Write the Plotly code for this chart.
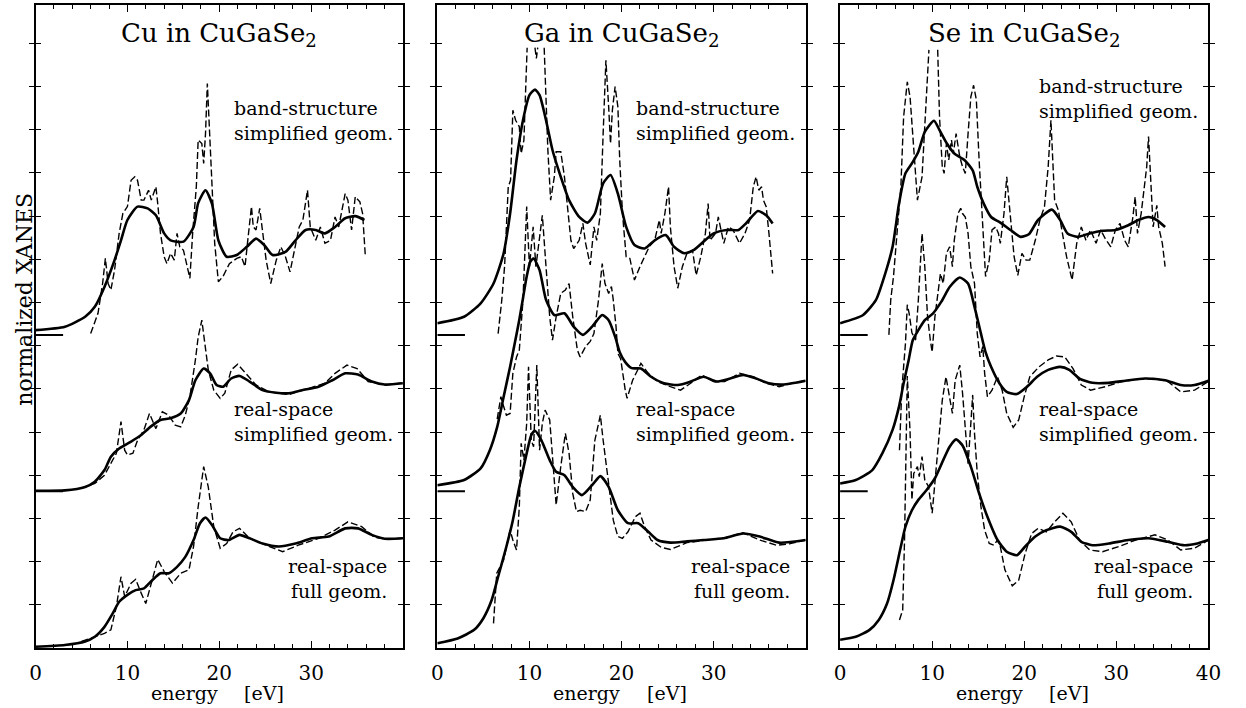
import plotly.graph_objects as go

# ---------------- data (energy [eV], normalized XANES, curves offset vertically) -------------
TITLES = ["Cu in CuGaSe<sub>2</sub>", "Ga in CuGaSe<sub>2</sub>", "Se in CuGaSe<sub>2</sub>"]
OFFSETS = [3.63, 7.25]          # baselines of the shifted curves
X_RANGES = [[0, 39.98], [0, 39.98], [0, 40]]

CU_BS_SOLID = [(0, 7.36), (3.2, 7.44), (5.4, 7.67), (6.45, 7.9), (7.5, 8.36), (8.6, 8.98), (9.3, 9.44),
               (10.0, 9.91), (11.1, 10.22), (12.2, 10.18), (13.1, 10.02), (14.0, 9.6), (14.7, 9.44),
               (16.1, 9.41), (17.2, 9.75), (17.7, 10.3), (18.5, 10.6), (19.2, 10.29), (19.9, 9.44),
               (20.8, 9.06), (21.9, 9.1), (23.0, 9.29), (24.0, 9.48), (24.9, 9.33), (25.8, 9.1),
               (27.2, 9.17), (28.3, 9.44), (29.4, 9.68), (30.5, 9.68), (31.5, 9.6), (32.6, 9.75),
               (33.7, 9.95), (34.8, 10.0), (35.8, 9.91)]
CU_BS_DASH = [(6.0, 7.28), (6.3, 7.44), (6.8, 7.75), (7.3, 8.44), (7.6, 9.02), (7.9, 8.44), (8.2, 8.29),
              (8.6, 8.75), (9.1, 9.6), (9.5, 10.06), (10.0, 10.22), (10.4, 10.83), (10.8, 10.91),
              (11.1, 10.83), (11.5, 10.37), (11.8, 10.37), (12.3, 10.6), (12.6, 10.37), (13.1, 10.68),
              (13.3, 10.29), (13.6, 9.6), (14.0, 9.06), (14.3, 8.9), (14.7, 9.14), (15.1, 8.98),
              (15.4, 9.6), (15.7, 9.29), (16.1, 9.21), (16.4, 8.9), (16.8, 8.56), (17.1, 9.6),
              (17.5, 10.68), (17.7, 11.76), (18.1, 11.68), (18.3, 11.22), (18.5, 11.91), (18.7, 13.07),
              (19.0, 11.76), (19.3, 10.37), (19.5, 9.37), (19.9, 8.48), (20.4, 8.6), (21.1, 8.9),
              (21.9, 9.02), (22.4, 9.06), (22.8, 8.83), (23.1, 9.44), (23.5, 10.22), (23.7, 9.75),
              (24.0, 9.68), (24.4, 10.18), (24.7, 9.6), (25.1, 8.98), (25.6, 8.44), (26.2, 8.98),
              (26.7, 9.29), (27.2, 9.06), (27.7, 8.71), (28.1, 9.14), (28.7, 9.75), (29.1, 9.91),
              (29.6, 10.6), (29.9, 9.75), (30.5, 9.44), (31.0, 9.75), (31.5, 9.37), (32.1, 9.44),
              (32.6, 9.98), (33.0, 9.75), (33.7, 10.52), (34.0, 10.37), (34.4, 9.68), (34.8, 10.45),
              (35.3, 10.33), (35.6, 10.06), (35.9, 9.06)]
CU_RS_SIMP_SOLID = [(0, 3.64), (3.2, 3.65), (5.4, 3.73), (6.45, 3.85), (7.5, 4.12), (8.2, 4.43), (9.1, 4.62),
                    (10.4, 4.78), (11.5, 4.93), (12.5, 5.12), (13.6, 5.28), (14.7, 5.32), (15.8, 5.43),
                    (16.7, 5.74), (17.4, 6.2), (18.3, 6.47), (19.0, 6.36), (19.7, 6.09), (20.4, 6.05),
                    (21.3, 6.24), (22.2, 6.3), (23.3, 6.17), (24.7, 5.97), (26.2, 5.91), (27.6, 5.9),
                    (29.0, 5.97), (30.8, 6.05), (32.3, 6.2), (33.7, 6.36), (35.1, 6.33), (36.6, 6.17),
                    (38.0, 6.1), (40.0, 6.13)]
CU_RS_SIMP_DASH = [(5.0, 3.7), (6.45, 3.81), (7.5, 4.0), (8.2, 4.27), (8.8, 4.51), (9.3, 5.24), (9.7, 4.58),
                   (10.0, 4.47), (10.6, 4.51), (11.1, 4.81), (11.8, 5.05), (12.4, 5.43), (13.1, 5.08),
                   (13.8, 5.47), (14.5, 5.39), (15.2, 5.16), (15.8, 5.12), (16.3, 5.39), (16.8, 5.82),
                   (17.4, 6.67), (17.7, 7.2), (18.1, 7.59), (18.5, 6.9), (18.8, 6.44), (19.4, 5.97),
                   (20.1, 5.78), (20.6, 5.9), (21.3, 6.44), (22.0, 6.57), (22.9, 6.36), (24.0, 6.09),
                   (25.4, 5.93), (27.6, 5.87), (29.7, 6.01), (31.5, 6.13), (32.6, 6.36), (33.9, 6.55),
                   (35.0, 6.47), (36.2, 6.17), (38.0, 6.09), (40.0, 6.14)]
CU_RS_FULL_SOLID = [(0, 0.03), (3.2, 0.07), (5.4, 0.15), (6.45, 0.26), (7.5, 0.49), (8.4, 0.8), (9.1, 1.07),
                    (10.0, 1.23), (10.9, 1.34), (11.8, 1.38), (12.7, 1.57), (13.6, 1.73), (14.5, 1.73),
                    (15.4, 1.88), (16.3, 2.11), (17.2, 2.5), (17.9, 2.89), (18.5, 3.02), (19.2, 2.85),
                    (20.1, 2.54), (21.0, 2.5), (22.2, 2.62), (23.3, 2.54), (24.7, 2.42), (26.5, 2.35),
                    (28.3, 2.42), (30.1, 2.54), (31.9, 2.58), (33.7, 2.77), (35.1, 2.77), (36.6, 2.62),
                    (38.0, 2.53), (40.0, 2.54)]
CU_RS_FULL_DASH = [(5.0, 0.15), (7.5, 0.34), (8.2, 0.42), (8.8, 0.96), (9.3, 1.65), (9.7, 1.19), (10.4, 1.5),
                   (10.9, 1.59), (11.5, 1.27), (12.0, 1.03), (12.5, 1.42), (13.3, 2.05), (14.0, 1.77),
                   (14.9, 1.5), (15.8, 1.73), (16.7, 1.81), (17.2, 2.35), (17.7, 3.27), (18.3, 4.2),
                   (18.8, 3.73), (19.4, 2.81), (20.1, 2.31), (20.8, 2.42), (21.5, 2.69), (22.2, 2.77),
                   (23.3, 2.54), (25.1, 2.38), (26.9, 2.23), (28.6, 2.38), (30.8, 2.54), (32.6, 2.73),
                   (34.0, 2.92), (35.5, 2.81), (36.9, 2.56), (38.4, 2.52), (40.0, 2.54)]

GA_BS_SOLID = [(0, 7.52), (2.9, 7.67), (4.7, 7.98), (6.1, 8.44), (7.2, 9.14), (7.9, 10.06), (8.6, 11.3),
               (9.3, 12.22), (10.0, 12.8), (10.6, 12.93), (11.1, 12.8), (11.8, 12.22), (12.5, 11.53),
               (13.4, 10.91), (14.3, 10.37), (15.4, 9.98), (16.3, 9.85), (17.1, 10.06), (18.0, 10.76),
               (18.8, 10.95), (19.6, 10.52), (20.5, 9.75), (21.4, 9.33), (22.5, 9.25), (23.6, 9.44),
               (24.8, 9.56), (25.7, 9.29), (26.8, 9.14), (27.8, 9.21), (28.9, 9.41), (30.0, 9.6),
               (31.4, 9.68), (32.7, 9.68), (33.5, 9.83), (34.8, 10.12), (35.7, 10.02), (36.4, 9.83)]
GA_BS_DASH = [(6.6, 7.28), (7.0, 8.06), (7.3, 8.83), (7.7, 10.68), (7.95, 10.83), (8.2, 12.45), (8.5, 12.22),
              (8.9, 12.07), (9.1, 11.45), (9.4, 11.76), (9.6, 13.0), (9.75, 13.9), (9.75, None),
              (10.6, 13.9), (10.75, 13.65), (10.9, 13.9), (10.9, None), (11.6, 13.9), (12.0, 11.53),
              (12.3, 10.37), (12.7, 10.91), (12.9, 11.49), (13.4, 11.49), (13.8, 10.91), (14.1, 10.22),
              (14.5, 9.44), (14.8, 9.25), (15.4, 9.44), (15.8, 9.83), (16.1, 9.37), (16.6, 8.87),
              (17.0, 9.75), (17.3, 9.44), (17.7, 10.06), (18.0, 11.91), (18.3, 13.61), (18.6, 12.53),
              (18.8, 11.68), (19.0, 12.45), (19.3, 13.0), (19.6, 12.53), (19.8, 11.3), (20.1, 10.06),
              (20.5, 9.06), (20.9, 9.02), (21.4, 8.52), (22.0, 8.83), (22.5, 9.06), (23.0, 9.29),
              (23.6, 9.44), (24.1, 9.91), (24.3, 9.6), (24.7, 10.06), (25.1, 10.68), (25.3, 9.75),
              (25.7, 8.83), (26.1, 8.33), (26.6, 8.83), (27.1, 9.14), (27.7, 9.21), (28.1, 8.63),
              (28.6, 9.06), (29.1, 9.6), (29.4, 10.29), (29.6, 9.44), (30.2, 9.6), (30.5, 9.98),
              (31.1, 9.37), (31.6, 9.75), (32.1, 9.68), (32.8, 9.37), (33.4, 9.6), (33.9, 9.91),
              (34.3, 10.68), (34.6, 10.91), (34.9, 10.6), (35.2, 10.68), (35.4, 10.37), (35.7, 10.22),
              (36.0, 9.6), (36.4, 8.67)]
GA_RS_SIMP_SOLID = [(0, 3.77), (2.9, 3.89), (4.7, 4.16), (5.7, 4.58), (6.5, 5.12), (7.2, 5.82), (7.9, 6.51),
                    (8.4, 7.05), (8.9, 7.6), (9.3, 8.1), (9.7, 8.6), (10.1, 8.95), (10.45, 9.02),
                    (11.1, 8.75), (11.8, 8.06), (12.7, 7.71), (13.8, 7.75), (14.8, 7.44), (15.8, 7.25),
                    (16.8, 7.44), (17.9, 7.71), (18.6, 7.59), (19.3, 7.21), (19.8, 6.85), (20.4, 6.62),
                    (21.1, 6.48), (22.1, 6.47), (23.2, 6.28), (24.6, 6.13), (26.1, 6.09), (27.5, 6.17),
                    (28.9, 6.28), (30.3, 6.17), (31.8, 6.24), (33.2, 6.32), (34.6, 6.24), (36.0, 6.13),
                    (37.5, 6.1), (40.0, 6.19)]
GA_RS_SIMP_DASH = [(6.5, 5.3), (6.9, 5.82), (7.2, 5.59), (7.5, 5.39), (7.9, 5.43), (8.2, 6.36), (8.6, 6.74),
                   (8.9, 6.9), (9.3, 8.06), (9.7, 10.22), (10.0, 8.83), (10.4, 9.75), (10.7, 8.83),
                   (11.1, 9.44), (11.4, 10.02), (11.8, 8.83), (12.2, 7.67), (12.5, 7.13), (12.9, 7.67),
                   (13.4, 8.21), (13.9, 8.29), (14.3, 8.44), (14.7, 7.67), (15.2, 6.9), (15.5, 6.74),
                   (16.1, 6.98), (16.6, 7.1), (17.0, 7.28), (17.5, 8.06), (17.9, 8.9), (18.2, 8.44),
                   (18.6, 8.21), (18.9, 8.37), (19.1, 8.06), (19.4, 7.44), (19.6, 6.82), (19.9, 6.7),
                   (20.4, 5.97), (20.6, 5.78), (21.2, 6.2), (22.1, 6.59), (22.9, 6.36), (23.9, 6.17),
                   (25.3, 6.05), (26.4, 5.97), (27.5, 6.13), (28.7, 6.32), (30.0, 6.17), (31.2, 6.17),
                   (32.8, 6.36), (34.3, 6.28), (35.7, 6.13), (37.1, 6.05), (38.5, 6.13), (40.0, 6.19)]
GA_RS_FULL_SOLID = [(0, 0.11), (2.2, 0.22), (4.0, 0.42), (5.0, 0.69), (5.9, 1.11), (6.6, 1.65), (7.5, 2.35),
                    (8.2, 2.96), (8.9, 3.73), (9.7, 4.51), (10.2, 4.93), (10.6, 5.03), (11.3, 4.81),
                    (12.2, 4.35), (12.9, 4.08), (13.8, 4.0), (14.7, 3.73), (15.7, 3.54), (16.8, 3.77),
                    (17.7, 3.98), (18.6, 3.73), (19.6, 3.19), (20.7, 2.89), (21.8, 2.89), (22.9, 2.69),
                    (23.9, 2.5), (25.3, 2.44), (27.1, 2.47), (28.9, 2.5), (31.1, 2.54), (33.2, 2.65),
                    (35.0, 2.58), (37.1, 2.44), (40.0, 2.5)]
GA_RS_FULL_DASH = [(6.1, 0.57), (6.3, 1.42), (6.45, 1.73), (6.8, 1.88), (7.2, 2.04), (7.9, 2.73), (8.2, 2.5),
                   (8.6, 2.27), (8.9, 3.27), (9.1, 4.74), (9.4, 4.35), (9.7, 5.2), (9.9, 6.51), (10.2, 4.81),
                   (10.45, 4.66), (10.8, 6.55), (11.1, 4.58), (11.4, 5.2), (11.7, 5.51), (12.2, 5.28),
                   (12.5, 4.35), (12.9, 3.31), (13.4, 4.2), (13.9, 4.97), (14.3, 4.51), (14.7, 3.58),
                   (15.1, 3.16), (15.5, 3.19), (16.1, 3.16), (16.6, 3.43), (17.1, 4.81), (17.7, 5.39),
                   (18.0, 4.81), (18.6, 3.73), (19.1, 2.96), (19.6, 2.58), (20.1, 2.54), (20.7, 2.69),
                   (21.5, 3.04), (22.0, 3.12), (22.5, 2.81), (23.2, 2.5), (24.3, 2.33), (25.3, 2.28),
                   (27.1, 2.44), (29.3, 2.5), (31.4, 2.56), (33.2, 2.67), (35.0, 2.5), (36.8, 2.38),
                   (38.2, 2.41), (40.0, 2.5)]

SE_BS_SOLID = [(0, 7.52), (2.5, 7.71), (3.9, 8.06), (4.8, 8.6), (5.7, 9.29), (6.4, 10.29), (7.1, 10.99),
               (7.8, 11.22), (8.5, 11.49), (9.2, 11.95), (10.2, 12.21), (10.8, 11.99), (11.6, 11.68),
               (12.4, 11.45), (13.5, 11.3), (14.4, 11.06), (14.9, 10.68), (15.6, 10.29), (16.4, 9.98),
               (17.4, 9.85), (18.5, 9.68), (19.6, 9.52), (20.5, 9.58), (21.5, 9.91), (23.0, 10.15),
               (23.9, 9.91), (24.7, 9.6), (25.8, 9.52), (27.1, 9.6), (28.5, 9.66), (29.9, 9.68),
               (31.3, 9.79), (32.4, 9.91), (33.5, 9.98), (34.4, 9.91), (35.3, 9.75)]
SE_BS_DASH = [(5.3, 7.25), (5.5, 8.06), (5.8, 8.6), (6.2, 9.6), (6.6, 10.68), (6.9, 12.3), (7.3, 13.11),
              (7.6, 12.76), (8.0, 11.6), (8.4, 10.37), (8.9, 10.91), (9.2, 12.07), (9.4, 12.84),
              (9.65, 13.85), (9.65, None), (10.6, 13.85), (10.8, 12.3), (11.1, 11.14), (11.3, 10.99),
              (11.55, 11.68), (11.8, 11.3), (12.1, 11.76), (12.3, 11.45), (12.6, 11.91), (13.0, 11.37),
              (13.3, 11.14), (13.6, 10.99), (13.9, 11.91), (14.2, 12.76), (14.5, 13.03), (14.8, 12.69),
              (15.1, 11.3), (15.5, 9.75), (15.8, 8.6), (16.2, 8.98), (16.5, 9.68), (16.9, 9.75),
              (17.2, 9.6), (17.4, 9.37), (17.8, 10.06), (18.1, 10.91), (18.5, 10.06), (18.9, 9.06),
              (19.3, 8.63), (19.75, 9.14), (20.2, 8.98), (20.6, 8.98), (21.2, 9.44), (21.7, 9.91),
              (22.2, 10.22), (22.6, 11.14), (22.9, 12.22), (23.0, 11.76), (23.3, 10.37), (23.7, 10.14),
              (24.1, 9.68), (24.6, 9.06), (25.2, 8.52), (25.7, 9.37), (26.2, 9.75), (26.7, 9.44),
              (27.2, 9.68), (27.8, 9.37), (28.3, 9.68), (28.8, 9.48), (29.4, 9.29), (29.9, 9.68),
              (30.4, 9.83), (30.9, 9.44), (31.3, 9.29), (31.8, 9.98), (32.05, 10.45), (32.3, 9.6),
              (32.7, 10.06), (33.0, 10.68), (33.3, 11.14), (33.5, 11.84), (33.8, 10.76), (34.0, 9.75),
              (34.4, 10.25), (34.6, 9.75), (35.0, 9.37), (35.3, 8.83)]
SE_RS_SIMP_SOLID = [(0, 3.81), (1.7, 3.89), (3.5, 4.12), (4.6, 4.51), (5.7, 5.05), (6.4, 5.59), (6.9, 6.13),
                    (7.45, 6.67), (7.9, 7.13), (8.5, 7.36), (9.2, 7.59), (10.1, 7.75), (11.0, 8.02),
                    (11.9, 8.36), (13.0, 8.58), (13.9, 8.44), (14.6, 7.9), (15.3, 7.28), (15.8, 6.85),
                    (16.4, 6.51), (17.3, 6.13), (18.1, 5.93), (19.2, 5.88), (20.3, 6.05), (21.4, 6.28),
                    (22.6, 6.44), (23.9, 6.51), (24.9, 6.44), (26.0, 6.24), (27.4, 6.14), (29.2, 6.14),
                    (31.0, 6.19), (33.1, 6.24), (35.3, 6.2), (37.0, 6.09), (38.5, 6.09), (40.0, 6.19)]
SE_RS_SIMP_DASH = [(6.45, 4.58), (6.7, 5.97), (6.9, 6.51), (7.1, 7.05), (7.3, 7.95), (7.5, 7.75), (7.8, 7.3),
                   (8.2, 7.13), (8.5, 8.06), (8.9, 9.6), (9.2, 8.83), (9.5, 7.67), (9.8, 7.13), (10.0, 6.85),
                   (10.3, 7.67), (10.7, 8.36), (10.9, 8.67), (11.2, 8.44), (11.55, 9.14), (11.9, 9.29),
                   (12.2, 8.83), (12.4, 9.44), (12.8, 10.06), (13.1, 10.18), (13.3, 10.06), (13.6, 9.98),
                   (13.9, 9.6), (14.2, 8.83), (14.6, 8.44), (14.9, 7.28), (15.2, 6.74), (15.5, 6.98),
                   (15.7, 6.36), (16.0, 5.82), (16.5, 5.97), (17.1, 6.28), (17.6, 5.97), (18.1, 5.43),
                   (18.8, 5.11), (19.4, 5.28), (20.0, 5.82), (20.6, 6.28), (21.6, 6.51), (22.6, 6.67),
                   (23.5, 6.76), (24.4, 6.74), (25.3, 6.47), (26.2, 6.09), (27.2, 5.97), (28.8, 6.05),
                   (30.6, 6.17), (32.4, 6.22), (34.2, 6.24), (35.6, 6.17), (37.0, 5.93), (38.5, 5.97),
                   (40.0, 6.17)]
SE_RS_FULL_SOLID = [(0, 0.19), (1.7, 0.26), (3.2, 0.42), (4.2, 0.65), (5.1, 1.03), (5.8, 1.57), (6.6, 2.35),
                    (7.1, 2.81), (7.8, 3.19), (8.5, 3.43), (9.4, 3.66), (10.3, 3.93), (11.2, 4.35),
                    (11.9, 4.66), (12.6, 4.83), (13.3, 4.69), (14.2, 4.2), (15.1, 3.58), (16.0, 3.04),
                    (17.1, 2.5), (18.1, 2.23), (19.2, 2.15), (20.1, 2.35), (21.2, 2.58), (22.4, 2.73),
                    (23.9, 2.81), (25.1, 2.69), (26.2, 2.46), (27.4, 2.38), (29.2, 2.42), (31.3, 2.5),
                    (33.5, 2.54), (35.6, 2.46), (37.4, 2.38), (38.8, 2.42), (40.0, 2.5)]
SE_RS_FULL_DASH = [(6.45, 0.65), (6.8, 0.88), (7.0, 2.5), (7.3, 6.3), (7.6, 5.0), (7.8, 3.43), (8.0, 4.04),
                   (8.4, 4.2), (8.6, 3.97), (8.9, 4.43), (9.2, 3.89), (9.6, 3.74), (10.0, 3.12), (10.3, 3.89),
                   (10.6, 4.58), (11.1, 5.74), (11.5, 6.28), (11.9, 5.74), (12.2, 5.43), (12.5, 6.2),
                   (13.0, 6.55), (13.3, 5.9), (13.7, 4.81), (13.9, 4.27), (14.2, 5.2), (14.4, 5.86),
                   (14.6, 4.97), (14.9, 4.04), (15.3, 3.27), (15.7, 2.73), (16.2, 2.42), (16.7, 2.38),
                   (17.1, 2.5), (17.4, 2.35), (17.9, 1.81), (18.7, 1.44), (19.4, 1.57), (20.1, 2.19),
                   (20.8, 2.65), (21.5, 2.77), (22.4, 2.69), (23.3, 2.92), (24.2, 3.12), (25.1, 2.92),
                   (26.0, 2.5), (27.1, 2.27), (28.5, 2.23), (30.3, 2.35), (32.1, 2.5), (34.2, 2.62),
                   (35.6, 2.5), (37.0, 2.27), (38.5, 2.31), (40.0, 2.5)]

LABEL_BS = "band-structure<br>simplified geom."
LABEL_RS_SIMP = "real-space<br>simplified geom."
LABEL_RS_FULL = "real-space<br>full geom."

PANELS = [
    dict(title=TITLES[0],
         curves=[(CU_BS_SOLID, CU_BS_DASH), (CU_RS_SIMP_SOLID, CU_RS_SIMP_DASH), (CU_RS_FULL_SOLID, CU_RS_FULL_DASH)],
         bs_label_y=12.22),
    dict(title=TITLES[1],
         curves=[(GA_BS_SOLID, GA_BS_DASH), (GA_RS_SIMP_SOLID, GA_RS_SIMP_DASH), (GA_RS_FULL_SOLID, GA_RS_FULL_DASH)],
         bs_label_y=12.22),
    dict(title=TITLES[2],
         curves=[(SE_BS_SOLID, SE_BS_DASH), (SE_RS_SIMP_SOLID, SE_RS_SIMP_DASH), (SE_RS_FULL_SOLID, SE_RS_FULL_DASH)],
         bs_label_y=12.72),
]

# ---------------- figure ----------------
W, H = 1246, 708
X_DOMAINS_PX = [(30, 403), (438, 812), (847, 1221)]
Y_DOMAIN_PX = (4.5, 648)   # top, bottom in pixels
FONT = "DejaVu Serif"

fig = go.Figure()


def unzip(pairs):
    return [p[0] for p in pairs], [p[1] for p in pairs]


for i, panel in enumerate(PANELS):
    xa = "x" if i == 0 else f"x{i + 1}"
    ya = "y" if i == 0 else f"y{i + 1}"
    xm = f"x{i + 4}"          # overlay axis carrying the minor (2 eV) ticks
    for solid, dash in panel["curves"]:
        dx, dy = unzip(dash)
        fig.add_trace(go.Scatter(x=dx, y=dy, mode="lines", xaxis=xa, yaxis=ya, showlegend=False,
                                 connectgaps=False, hoverinfo="skip",
                                 line=dict(color="black", width=1.4, dash="7px,3px")))
        sx, sy = unzip(solid)
        fig.add_trace(go.Scatter(x=sx, y=sy, mode="lines", xaxis=xa, yaxis=ya, showlegend=False,
                                 hoverinfo="skip",
                                 line=dict(color="black", width=2.6, shape="spline", smoothing=0.6)))
    for off in OFFSETS:
        fig.add_trace(go.Scatter(x=[0, 3.0], y=[off, off], mode="lines", xaxis=xa, yaxis=ya,
                                 showlegend=False, hoverinfo="skip",
                                 line=dict(color="black", width=2)))
    # empty trace so the minor-tick overlay axis is rendered
    fig.add_trace(go.Scatter(x=[], y=[], mode="lines", xaxis=xm, yaxis=ya, showlegend=False,
                             hoverinfo="skip"))

    x0, x1 = X_DOMAINS_PX[i]
    xkey = "xaxis" if i == 0 else f"xaxis{i + 1}"
    ykey = "yaxis" if i == 0 else f"yaxis{i + 1}"
    xmkey = f"xaxis{i + 4}"
    fig.update_layout({
        xkey: dict(domain=[x0 / W, x1 / W], range=X_RANGES[i], anchor=ya,
                   tickmode="linear", tick0=0, dtick=10,
                   ticks="inside", ticklen=7, tickwidth=1.3, tickcolor="black",
                   showline=True, linecolor="black", linewidth=2, mirror="allticks",
                   showgrid=False, zeroline=False, ticklabelstandoff=6,
                   tickfont=dict(family=FONT, size=20, color="black")),
        xmkey: dict(overlaying=xa, range=X_RANGES[i], anchor=ya, side="bottom",
                    tickmode="linear", tick0=0, dtick=2,
                    ticks="inside", ticklen=4, tickwidth=1.2, tickcolor="black",
                    showticklabels=False, showline=False, mirror="allticks",
                    showgrid=False, zeroline=False),
        ykey: dict(domain=[(H - Y_DOMAIN_PX[1]) / H, (H - Y_DOMAIN_PX[0]) / H], range=[0, 14.9],
                   anchor=xa, tickmode="linear", tick0=0, dtick=1,
                   ticks="inside", ticklen=5, tickwidth=1.3, tickcolor="black",
                   showticklabels=False, showline=True, linecolor="black", linewidth=2,
                   mirror="allticks", showgrid=False, zeroline=False),
    })

    ann_font = dict(family=FONT, size=19, color="black")
    fig.add_annotation(x=20, y=14.2, xref=xa, yref=ya, text=panel["title"], showarrow=False,
                       font=dict(family=FONT, size=26, color="black"), xanchor="center", yanchor="middle")
    fig.add_annotation(x=21.4, y=panel["bs_label_y"], xref=xa, yref=ya, text=LABEL_BS, showarrow=False,
                       font=ann_font, xanchor="left", yanchor="middle", align="left")
    fig.add_annotation(x=21.4, y=5.25, xref=xa, yref=ya, text=LABEL_RS_SIMP, showarrow=False,
                       font=ann_font, xanchor="left", yanchor="middle", align="left")
    fig.add_annotation(x=38.5, y=1.62, xref=xa, yref=ya, text=LABEL_RS_FULL, showarrow=False,
                       font=ann_font, xanchor="right", yanchor="middle", align="right")
    fig.add_annotation(x=16.2, y=(H - 693) / H, xref=xa, yref="paper", text="energy", showarrow=False,
                       font=ann_font, xanchor="center", yanchor="middle")
    fig.add_annotation(x=24.9, y=(H - 693) / H, xref=xa, yref="paper", text="[eV]", showarrow=False,
                       font=ann_font, xanchor="center", yanchor="middle")

fig.add_annotation(x=18 / W, y=(H - 299) / H, xref="paper", yref="paper", text="normalized XANES",
                   showarrow=False, textangle=-90, font=dict(family=FONT, size=22, color="black"),
                   xanchor="center", yanchor="middle")

fig.update_layout(width=W, height=H, margin=dict(l=0, r=0, t=0, b=0),
                  plot_bgcolor="white", paper_bgcolor="white", showlegend=False)

fig.write_html("out.html")
